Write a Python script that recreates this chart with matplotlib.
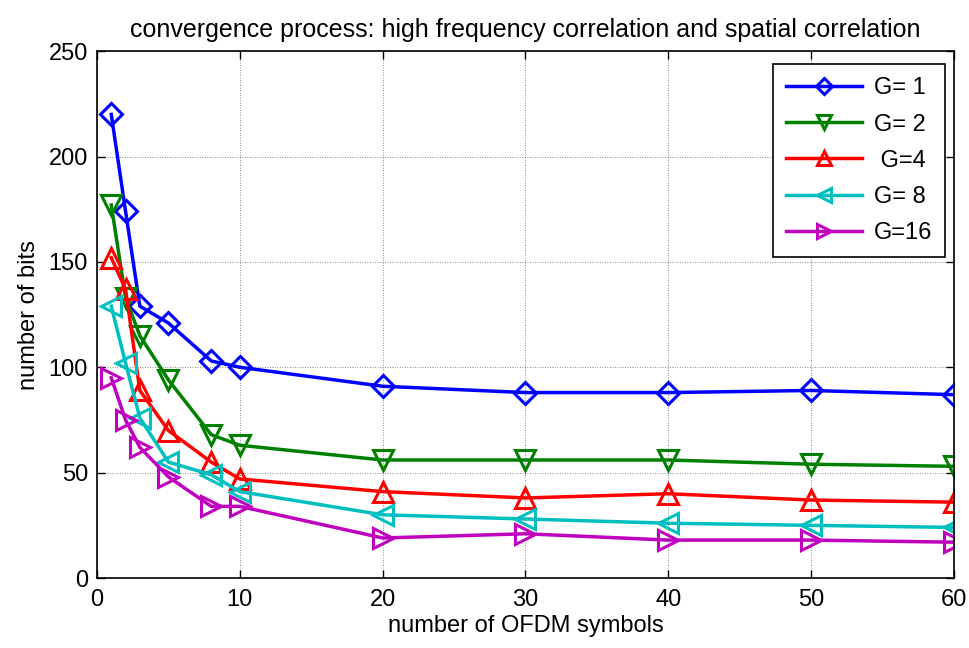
import matplotlib
matplotlib.use("Agg")
import matplotlib.pyplot as plt

plt.rcParams["font.family"] = ["Liberation Sans", "DejaVu Sans"]

# ── data ──────────────────────────────────────────────────────
x_symbols = [1, 2, 3, 5, 8, 10, 20, 30, 40, 50, 60]
g1  = [220, 174, 129, 121, 103, 100, 91, 88, 88, 89, 87]
g2  = [177, 133, 115, 94, 68, 63, 56, 56, 56, 54, 53]
g4  = [152, 137, 89, 70, 55, 47, 41, 38, 40, 37, 36]
g8  = [129, 102, 76, 55, 49, 41, 30, 28, 26, 25, 24]
g16 = [95, 75, 62, 48, 34, 34, 19, 21, 18, 18, 17]

series = [
    (g1,  "G= 1", "#0000ff", "D"),
    (g2,  "G= 2", "#008000", "v"),
    (g4,  " G=4", "#ff0000", "^"),
    (g8,  "G= 8", "#00bfbf", "<"),
    (g16, "G=16", "#bf00bf", ">"),
]

fig = plt.figure(figsize=(9.7, 6.48), dpi=100, facecolor="white")
ax = fig.add_axes([0.1, 0.108, 0.8835, 0.813])

for ys, lab, col, mk in series:
    ms = 11.5 if mk == "D" else 14
    ax.plot(x_symbols, ys, color=col, linewidth=2.5, marker=mk,
            markersize=ms, markerfacecolor="none", markeredgewidth=2.2,
            label=lab)

ax.set_xlim(0, 60)
ax.set_ylim(0, 250)
ax.set_xticks([0, 10, 20, 30, 40, 50, 60])
ax.set_yticks([0, 50, 100, 150, 200, 250])
ax.grid(True, color="black", linestyle=(0, (1, 2)), linewidth=0.6, alpha=0.6)
ax.tick_params(direction="in", top=True, right=True, labelsize=17,
               length=6, width=1)
ax.tick_params(axis="x", pad=8)
ax.tick_params(axis="y", pad=6.5)
for s in ax.spines.values():
    s.set_linewidth(1.2)

ax.set_xlabel("number of OFDM symbols", fontsize=17, labelpad=3)
ax.set_ylabel("number of bits", fontsize=17, labelpad=6)
ax.set_title("convergence process: high frequency correlation and spatial correlation",
             fontsize=18, pad=10)

leg = ax.legend(loc="upper right", fontsize=17, fancybox=False, framealpha=1,
                edgecolor="black", handlelength=3.2, borderpad=0.55,
                labelspacing=0.6, handletextpad=0.5, borderaxespad=0.0,
                markerscale=0.75, bbox_to_anchor=(0.9895, 0.975))
leg.get_frame().set_linewidth(1.2)

fig.savefig("out.png", dpi=100, facecolor="white")
